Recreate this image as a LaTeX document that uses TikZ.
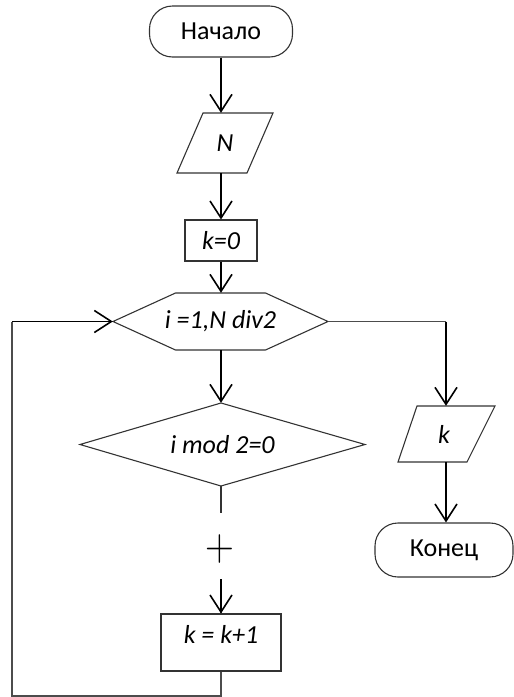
\documentclass[tikz,border=0pt]{standalone}
\usepackage{fontspec}
\setmainfont{Carlito}
\newfontfamily\lmfont{Latin Modern Roman}
\usetikzlibrary{arrows.meta,shapes.geometric,calc}
\tikzset{
  shapeline/.style={draw=black!80, line width=1.1pt},
  txt/.style={font=\fontsize{26}{30}\selectfont, inner sep=0pt},
  itxt/.style={font=\fontsize{26}{30}\selectfont\itshape, inner sep=0pt},
  conn/.style={draw=black!70, line width=1.3pt},
  arrowline/.style={draw=black, line width=1.6pt, -{Straight Barb[length=17pt,width=22pt]}},
  plainline/.style={draw=black!80, line width=1.3pt},
}
\begin{document}
\begin{tikzpicture}[x=1pt,y=-1pt]
\useasboundingbox (0,0) rectangle (514,697);
% start
\node[shapeline, txt, rounded corners=23pt, minimum width=143pt, minimum height=51pt] (start) at (221,31.5) {Начало};
% N parallelogram
\node[itxt, minimum width=70pt, minimum height=60pt] (N) at (225,143) {N};
\draw[shapeline] ($(N.center)+(-22,-30)$) -- ($(N.center)+(48,-30)$) -- ($(N.center)+(22,30)$) -- ($(N.center)+(-48,30)$) -- cycle;
% k=0
\node[shapeline, itxt, minimum width=72pt, minimum height=41pt] (k0) at (221,240.5) {k=0};
% hexagon
\node[itxt, minimum width=215pt, minimum height=57pt] (hex) at (220.5,321.5) {i =1,N div2};
\draw[shapeline] ($(hex.center)+(-107.5,0)$) -- ($(hex.center)+(-45,-28.5)$) -- ($(hex.center)+(45,-28.5)$) -- ($(hex.center)+(107.5,0)$) -- ($(hex.center)+(45,28.5)$) -- ($(hex.center)+(-45,28.5)$) -- cycle;
% diamond
\node[itxt, minimum width=285pt, minimum height=83pt] (dia) at (222.5,444.5) {i mod 2=0};
\draw[shapeline] ($(dia.center)+(-142.5,0)$) -- ($(dia.center)+(-1.5,-41.5)$) -- ($(dia.center)+(142.5,0)$) -- ($(dia.center)+(-1.5,41.5)$) -- cycle;
% k = k+1
\node[shapeline, minimum width=120pt, minimum height=57pt, inner sep=0pt] (kk) at (221,642.5) {};
\node[itxt] (kkt) at (221,634) {k = k+1};
% output k
\node[itxt, minimum width=70pt, minimum height=56pt] (kout) at (444,434) {k};
\draw[shapeline] ($(kout.center)+(-27,-28)$) -- ($(kout.center)+(51,-28)$) -- ($(kout.center)+(23,28)$) -- ($(kout.center)+(-46,28)$) -- cycle;
% end
\node[shapeline, txt, rounded corners=23pt, minimum width=138pt, minimum height=54pt] (endn) at (444,550) {Конец};

\coordinate (rc) at (446,321.5);
\coordinate (lb) at (221,696);
\coordinate (ll) at (12,696);
\coordinate (lt) at (12,321.5);
\coordinate (ds) at (221,486);

% connectors
\draw[arrowline] (start.south) -- (start.south |- N.north);
\draw[arrowline] (k0.north |- N.south) -- (k0.north);
\draw[arrowline] (k0.south) -- (k0.south |- hex.north);
\draw[arrowline] (k0.south |- hex.south) -- (k0.south |- dia.north);
\draw[plainline] (ds) -- (kk.north);
\node[font=\lmfont\fontsize{40}{44}\selectfont, fill=white, inner sep=0pt, minimum height=63pt, yscale=1.15] (plus) at (220,549) {+};
\draw[arrowline] ($(kk.north)+(0,-34)$) -- (kk.north);
\draw[conn] (hex.east) -- (rc);
\draw[arrowline] (rc) -- (rc |- kout.north);
\draw[arrowline] (rc |- kout.south) -- (rc |- endn.north);
\draw[conn] (kk.south) -- (lb) -- (ll) -- (lt);
\draw[arrowline] (lt) -- (hex.west);
\end{tikzpicture}
\end{document}
